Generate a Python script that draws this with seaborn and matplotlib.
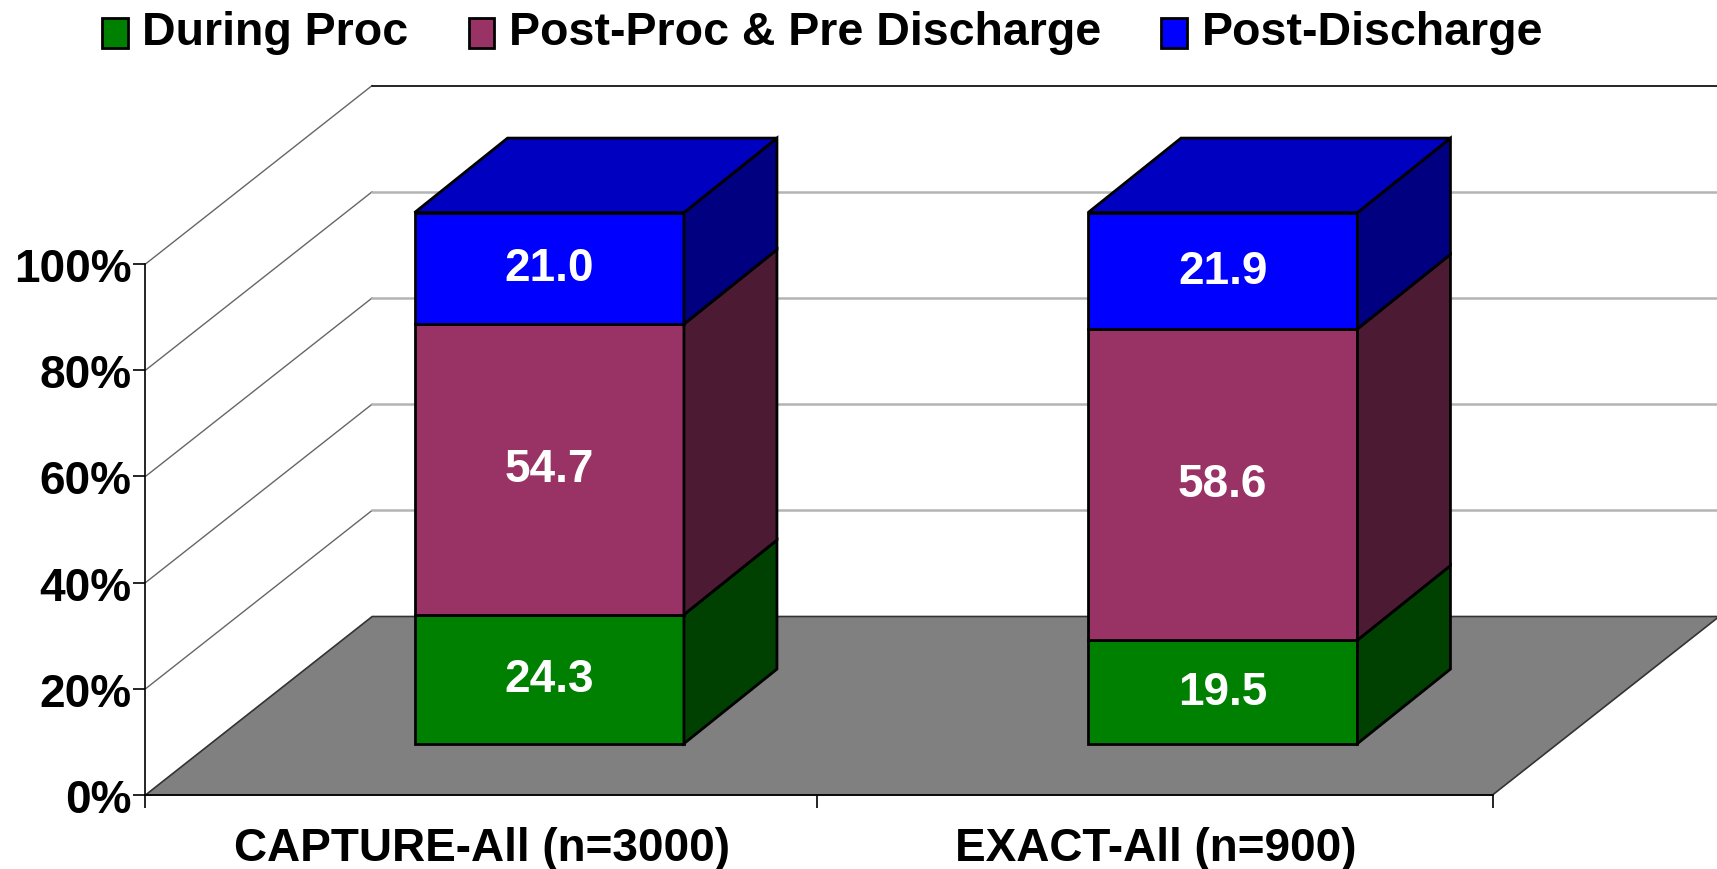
import numpy as np
import pandas as pd
import seaborn as sns
import matplotlib
matplotlib.use('Agg')
import matplotlib.pyplot as plt

# data
categories = ['CAPTURE-All (n=3000)', 'EXACT-All (n=900)']
series_names = ['During Proc', 'Post-Proc & Pre Discharge', 'Post-Discharge']
during_proc = [24.3, 19.5]
post_proc = [54.7, 58.6]
post_discharge = [21.0, 21.9]
y_ticks = [0, 20, 40, 60, 80, 100]

# colours
front_colors = ['#008000', '#993366', '#0000FF']
side_colors = ['#004000', '#4C1A33', '#000080']
top_color = '#0000C0'

sns.set_theme(style='white')
plt.rcParams['font.family'] = ['Liberation Sans', 'DejaVu Sans']
plt.rcParams['font.weight'] = 'bold'
plt.rcParams['text.color'] = 'black'
plt.rcParams['xtick.color'] = 'black'
plt.rcParams['ytick.color'] = 'black'

W, H = 1717, 870
fig = plt.figure(figsize=(W / 100, H / 100), dpi=100)
ax = fig.add_axes([0, 0, 1, 1])

# pixel scale of the chart (one category, one percent)
x0_px, y0_px = 145.5, 796
cat_px = 673.5
pct_px = 5.31

# fake 3d offsets, in data units
wall_dx, wall_dy = 226.7 / cat_px, 178.5 / pct_px
bar_dx, bar_dy = 93 / cat_px, 74.5 / pct_px
front_dx, front_dy = 67 / cat_px, 51.4 / pct_px
bar_w = 0.4

xlim = (-0.5 - x0_px / cat_px, -0.5 + (W - x0_px) / cat_px)
ylim = ((y0_px - H) / pct_px, y0_px / pct_px)
x_left, x_right = -0.5, 1.5

# floor and walls
ax.fill([x_left, x_right, x_right + wall_dx, x_left + wall_dx],
        [0, 0, wall_dy, wall_dy], facecolor='#808080', edgecolor='#333333',
        linewidth=1.2, zorder=1)
for t in y_ticks[1:]:
    wall_y = t + wall_dy
    ax.plot([x_left, x_left + wall_dx], [t, wall_y], color='#666666', lw=1, zorder=1)
    ax.plot([x_left + wall_dx, xlim[1]], [wall_y, wall_y],
            color='black' if t == 100 else '#B4B4B4',
            lw=1.2 if t == 100 else 1.8, zorder=1)

# stacked bars
x_pos = np.arange(len(categories)) + front_dx
stack = [during_proc, post_proc, post_discharge]
bottom = np.full(len(categories), front_dy)
for name, vals, fc, sc in zip(series_names, stack, front_colors, side_colors):
    df = pd.DataFrame({'x': x_pos, 'value': vals})
    sns.barplot(data=df, x='x', y='value', native_scale=True, width=bar_w,
                bottom=bottom, color=fc, saturation=1, edgecolor='black',
                linewidth=2, label=name, ax=ax, zorder=3)
    top = bottom + np.array(vals)
    # side faces
    for xp, b, t in zip(x_pos, bottom, top):
        xr = xp + bar_w / 2
        ax.fill([xr, xr + bar_dx, xr + bar_dx, xr],
                [b, b + bar_dy, t + bar_dy, t],
                facecolor=sc, edgecolor='black', linewidth=2, zorder=3)
    bottom = top

# top faces
for xp, t in zip(x_pos, bottom):
    xl, xr = xp - bar_w / 2, xp + bar_w / 2
    ax.fill([xl, xr, xr + bar_dx, xl + bar_dx],
            [t, t, t + bar_dy, t + bar_dy],
            facecolor=top_color, edgecolor='black', linewidth=2, zorder=3)

for c in ax.containers:
    ax.bar_label(c, fmt='%.1f', label_type='center', color='white',
                 fontsize=33, fontweight='bold', zorder=5)

ax.set_xlim(*xlim)
ax.set_ylim(*ylim)
ax.set_xlabel('')
ax.set_ylabel('')
ax.patch.set_alpha(0)

# axes lines
for s in ['top', 'right']:
    ax.spines[s].set_visible(False)
ax.spines['left'].set_position(('data', x_left))
ax.spines['left'].set_bounds(0, 100)
ax.spines['bottom'].set_position(('data', 0))
ax.spines['bottom'].set_bounds(x_left, x_right)
for s in ['left', 'bottom']:
    ax.spines[s].set_color('black')
    ax.spines[s].set_linewidth(1.2)
    ax.spines[s].set_zorder(2)

ax.set_yticks(y_ticks)
ax.set_yticklabels([f'{t}%' for t in y_ticks], fontsize=33, fontweight='bold')
ax.tick_params(axis='y', left=True, length=9, width=1.2, pad=1, color='black')

ax.set_xticks([x_left, 0.497, x_right])
ax.set_xticklabels([])
ax.set_xticks([0, 1], minor=True)
ax.set_xticklabels(categories, minor=True, fontsize=33, fontweight='bold')
ax.tick_params(axis='x', which='major', bottom=True, length=9, width=1.2, color='black')
ax.tick_params(axis='x', which='minor', bottom=False, length=0, pad=22)

leg = ax.legend(loc='upper left', bbox_to_anchor=(102 / W, 1 - 11 / H), ncol=3,
                frameon=False, prop={'size': 33.5, 'weight': 'bold'}, labelcolor='black',
                handlelength=0.55, handleheight=0.6, handletextpad=0.32,
                columnspacing=1.29, borderpad=0, borderaxespad=0)
# swatches sit a bit lower than the text
for p in leg.legend_handles:
    p.set_y(p.get_y() - 4)

fig.savefig('out.png', dpi=100, facecolor='white')
